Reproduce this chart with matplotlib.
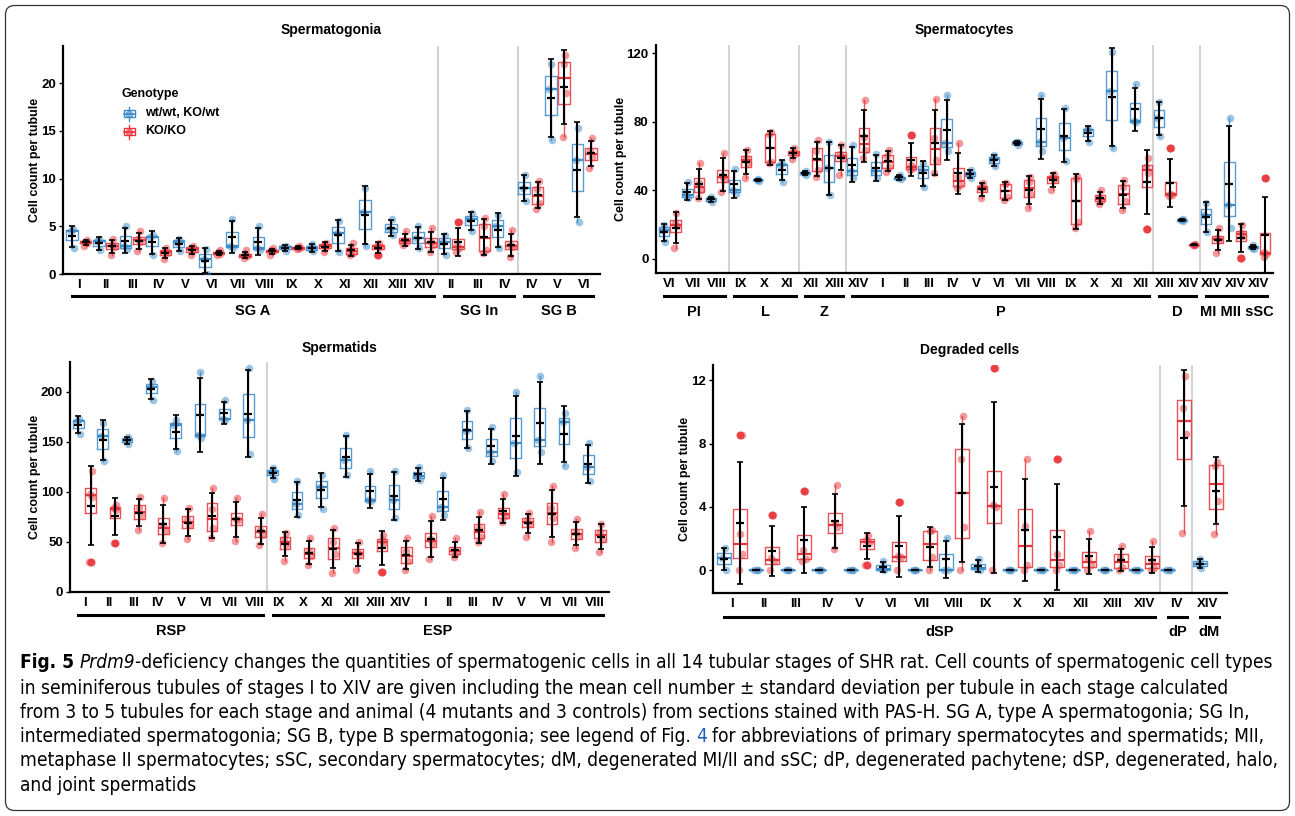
import numpy as np
import matplotlib
matplotlib.use("Agg")
import matplotlib.pyplot as plt
from matplotlib import font_manager
from matplotlib.lines import Line2D
from matplotlib.patches import Rectangle, FancyBboxPatch
from matplotlib.transforms import blended_transform_factory, IdentityTransform

# -----------------------
# Data (animal means per stage; 3 controls, 4 mutants)
# -----------------------
sg_stages = ["I", "II", "III", "IV", "V", "VI", "VII", "VIII", "IX", "X", "XI", "XII", "XIII", "XIV",
             "II", "III", "IV", "IV", "V", "VI"]
sg_groups = [("SG A", 14), ("SG In", 3), ("SG B", 3)]
sg_wt = [[2.7, 4.5, 4.7], [2.5, 3.5, 3.7], [2.6, 3.0, 5.0], [2.0, 3.9, 4.1], [2.4, 3.4, 3.7],
         [0.0, 1.6, 2.6], [2.8, 3.0, 5.8], [2.5, 2.7, 5.0], [2.4, 2.9, 3.0], [2.4, 2.7, 3.2],
         [2.3, 4.3, 5.6], [3.0, 6.5, 9.0], [4.1, 4.7, 5.8], [2.7, 3.8, 5.0],
         [2.0, 3.4, 4.1], [4.5, 5.8, 6.4], [2.7, 5.1, 6.2],
         [7.7, 9.0, 10.4], [14.0, 19.4, 22.0], [5.5, 12.0, 15.3]]
sg_ko = [[3.0, 3.3, 3.4, 3.6], [2.0, 2.9, 3.1, 3.7], [2.4, 3.4, 3.7, 4.5], [1.6, 2.2, 2.4, 2.8],
         [2.0, 2.5, 2.8, 3.0], [2.0, 2.1, 2.3, 2.5], [1.7, 1.9, 2.0, 2.5], [2.0, 2.4, 2.5, 2.7],
         [2.6, 2.7, 2.8, 3.0], [2.3, 2.9, 3.1, 3.3], [2.0, 2.2, 2.6, 3.3], [2.0, 2.9, 3.0, 3.3],
         [3.1, 3.3, 3.6, 4.5], [2.3, 3.1, 3.4, 4.8],
         [2.3, 2.7, 3.1, 5.5], [2.2, 2.5, 5.0, 5.9], [1.8, 2.9, 3.1, 4.6],
         [6.8, 7.5, 8.9, 9.8], [14.4, 19.0, 22.0, 22.9], [11.1, 12.3, 12.9, 14.3]]

sc_stages = ["VI", "VII", "VIII", "IX", "X", "XI", "XII", "XIII",
             "XIV", "I", "II", "III", "IV", "V", "VI", "VII", "VIII", "IX", "X", "XI", "XII",
             "XIII", "XIV", "XIV", "XIV", "XIV"]
sc_groups = [("PI", 3), ("L", 3), ("Z", 2), ("P", 13), ("D", 2), ("MI MII sSC", 3)]
sc_wt = [[10.0, 16.8, 19.8], [35.5, 37.0, 45.0], [33.0, 35.0, 36.0],
         [38.0, 40.0, 52.5], [45.5, 46.0, 46.5], [45.0, 54.5, 56.0],
         [49.0, 50.0, 51.5], [37.0, 53.0, 68.4],
         [47.0, 51.0, 66.4], [47.0, 51.0, 61.5], [46.5, 47.0, 49.0], [42.0, 52.0, 56.0],
         [63.0, 67.4, 95.6], [47.0, 49.5, 52.0], [54.0, 58.0, 60.5], [66.5, 68.0, 68.5],
         [63.0, 68.4, 95.6], [57.0, 70.5, 88.2], [68.0, 75.0, 76.6], [64.5, 98.0, 121.0],
         [79.7, 80.5, 101.9],
         [72.0, 82.5, 91.5], [22.0, 22.5, 23.0],
         [15.4, 25.5, 32.3], [18.1, 31.4, 82.0], [5.5, 6.5, 8.0]]
sc_ko = [[6.0, 19.0, 21.0, 27.0], [35.6, 40.0, 44.0, 56.0], [39.0, 46.5, 48.5, 62.0],
         [47.0, 56.0, 59.0, 63.5], [55.7, 56.7, 72.7, 73.8], [58.0, 61.5, 62.5, 65.0],
         [48.0, 52.0, 63.0, 69.4], [49.0, 59.5, 61.0, 66.4],
         [59.0, 63.5, 71.0, 93.0], [50.8, 53.5, 60.0, 63.5], [51.8, 52.8, 54.8, 72.3],
         [50.0, 57.5, 70.5, 93.3], [41.5, 43.0, 48.0, 67.4], [35.6, 40.5, 42.0, 44.4],
         [34.3, 36.0, 43.5, 44.4], [29.4, 38.0, 45.0, 48.0], [40.0, 46.0, 48.0, 49.5],
         [17.7, 21.5, 46.5, 48.3], [32.0, 34.0, 36.0, 40.0], [28.4, 33.5, 42.0, 46.0],
         [17.1, 50.0, 53.8, 58.6],
         [36.5, 37.2, 38.0, 65.0], [7.8, 8.0, 8.2, 8.5],
         [3.5, 11.0, 12.0, 17.7], [0.2, 13.5, 15.0, 19.7], [1.0, 3.0, 4.0, 47.3]]

st_stages = ["I", "II", "III", "IV", "V", "VI", "VII", "VIII",
             "IX", "X", "XI", "XII", "XIII", "XIV", "I", "II", "III", "IV", "V", "VI", "VII", "VIII"]
st_groups = [("RSP", 8), ("ESP", 14)]
st_wt = [[157.5, 170.5, 173.0], [130.5, 155.5, 169.0], [148.0, 152.0, 155.0], [191.7, 205.0, 211.0],
         [140.7, 166.5, 171.7], [154.0, 157.0, 219.3], [171.5, 173.0, 191.7], [137.7, 171.7, 224.0],
         [113.0, 120.0, 123.5], [76.7, 88.0, 111.0], [83.0, 104.5, 117.0], [116.7, 131.7, 156.7],
         [90.5, 91.7, 120.7], [74.0, 91.7, 121.0], [111.7, 116.0, 124.3], [76.7, 85.0, 116.7],
         [144.0, 160.7, 181.7], [130.7, 140.0, 165.0], [120.0, 148.3, 199.3], [139.3, 151.7, 216.0],
         [125.7, 169.3, 178.3], [110.7, 125.0, 148.3]]
st_ko = [[29.3, 95.0, 98.0, 121.0], [48.3, 82.0, 84.0, 86.7], [61.7, 76.5, 83.5, 95.0],
         [49.0, 61.0, 67.0, 94.0], [52.7, 67.0, 73.0, 84.0], [53.3, 63.3, 83.0, 104.0],
         [50.7, 72.0, 73.0, 94.0], [46.7, 57.0, 62.0, 77.3],
         [30.7, 47.0, 53.0, 58.5], [26.7, 35.5, 40.5, 54.0], [18.3, 38.0, 50.0, 64.0],
         [21.7, 38.0, 40.0, 50.0], [19.3, 48.0, 51.5, 56.7], [21.7, 31.0, 41.0, 54.0],
         [32.7, 48.3, 53.0, 75.7], [35.0, 38.5, 42.0, 53.3], [50.0, 54.5, 64.0, 79.3],
         [70.0, 75.5, 79.0, 97.3], [55.0, 68.0, 72.0, 78.3], [49.3, 73.3, 83.3, 106.0],
         [44.0, 56.0, 60.0, 72.7], [39.3, 53.0, 60.0, 68.0]]

dg_stages = ["I", "II", "III", "IV", "V", "VI", "VII", "VIII", "IX", "X", "XI", "XII", "XIII", "XIV",
             "IV", "XIV"]
dg_groups = [("dSP", 14), ("dP", 1), ("dM", 1)]
dg_wt = [[0.0, 0.75, 1.4], [0.0, 0.0, 0.0], [0.0, 0.0, 0.0], [0.0, 0.0, 0.0], [0.0, 0.0, 0.0],
         [0.0, 0.05, 0.55], [0.0, 0.0, 0.0], [0.0, 0.0, 2.05], [0.0, 0.1, 0.7], [0.0, 0.0, 0.0],
         [0.0, 0.0, 0.0], [0.0, 0.0, 0.0], [0.0, 0.0, 0.0], [0.0, 0.0, 0.0],
         [0.0, 0.0, 0.0], [0.1, 0.4, 0.7]]
dg_ko = [[0.0, 1.0, 2.3, 8.55], [0.0, 0.55, 0.75, 3.5], [0.6, 0.7, 1.3, 5.0], [1.35, 2.7, 3.0, 5.4],
         [0.3, 1.7, 1.9, 2.2], [0.0, 0.8, 0.9, 4.3], [0.0, 0.85, 2.45, 2.55], [0.0, 2.7, 7.0, 9.75],
         [0.0, 4.0, 4.1, 12.8], [0.0, 0.3, 2.8, 7.0], [0.0, 0.3, 1.0, 7.05], [0.0, 0.3, 0.7, 2.45],
         [0.0, 0.2, 0.8, 1.55], [0.0, 0.15, 0.6, 1.85],
         [2.35, 8.6, 10.25, 12.3], [2.3, 4.35, 6.6, 6.85]]

genotypes = ["wt/wt, KO/wt", "KO/KO"]

# -----------------------
# Style
# -----------------------
W, H = 1295, 816
BLUE = "#3C8BC9"
RED = "#E8353B"
SEP = "#d4d4d4"
FONT = ["Liberation Sans", "DejaVu Sans"]
plt.rcParams["font.family"] = FONT
plt.rcParams["font.weight"] = "bold"

JIT = {3: [0.05, -0.06, 0.02], 4: [-0.05, 0.06, -0.02, 0.04]}


def fx(x):
    return x / W


def fy(y):
    return 1 - y / H


def draw_panel(fig, box, stages, groups, wt, ko, ylim, yticks, title, ylab_x, line_y, glab_y, title_y):
    left, top, right, bottom = box
    ax = fig.add_axes([fx(left), fy(bottom), (right - left) / W, (bottom - top) / H])
    n = len(stages)
    x = np.arange(1, n + 1)

    # group separators
    pos = 0
    for _, cnt in groups[:-1]:
        pos += cnt
        ax.axvline(pos + 0.5, color=SEP, lw=1.5, zorder=0)

    for vals, off, col in ((wt, -0.25, BLUE), (ko, 0.25, RED)):
        p = x + off
        ax.boxplot(vals, positions=p, widths=0.44, manage_ticks=False,
                   boxprops=dict(color=col, lw=1.0, alpha=0.85),
                   medianprops=dict(color=col, lw=1.6),
                   whiskerprops=dict(color=col, lw=1.0, alpha=0.85),
                   capprops=dict(visible=False),
                   flierprops=dict(marker="o", markerfacecolor=col, markeredgecolor="none",
                                   markersize=5.8, alpha=0.9),
                   zorder=2)
        for xi, v in zip(p, vals):
            v = np.asarray(v, dtype=float)
            ax.scatter(xi + np.array(JIT[len(v)]), v, s=30, color=col, alpha=0.5, lw=0, zorder=3)
            ax.errorbar(xi, v.mean(), yerr=v.std(ddof=1), fmt="none", ecolor="black",
                        elinewidth=1.5, capsize=2, capthick=1.2, zorder=4)
            ax.plot([xi], [v.mean()], marker="_", color="black", markersize=6, mew=1.6, zorder=5)

    ax.set_xlim(0.4, n + 0.6)
    ax.set_ylim(*ylim)
    ax.set_yticks(yticks)
    ax.set_xticks(x, stages)
    for s in ("top", "right"):
        ax.spines[s].set_visible(False)
    for s in ("left", "bottom"):
        ax.spines[s].set_linewidth(1.6)
    ax.tick_params(axis="x", length=0, pad=3.5, labelsize=9.5)
    ax.tick_params(axis="y", length=3, width=1, pad=2, labelsize=9.5)
    for t in ax.get_xticklabels() + ax.get_yticklabels():
        t.set_fontweight("bold")
    ax.set_ylabel("Cell count per tubule", fontsize=9, fontweight="bold")
    ax.yaxis.set_label_coords((ylab_x - left) / (right - left), 0.5)

    # group underlines and labels
    tr = blended_transform_factory(ax.transData, fig.transFigure)
    start = 1
    for name, cnt in groups:
        x0, x1 = start - 0.25, start + cnt - 1 + 0.35
        fig.add_artist(Line2D([x0, x1], [fy(line_y)] * 2, color="black", lw=2.2, transform=tr))
        fig.text((x0 + x1) / 2, fy(glab_y), name, transform=tr, ha="center", va="center",
                 fontsize=10.5, fontweight="bold")
        start += cnt

    fig.text(fx((left + right) / 2), fy(title_y), title, ha="center", va="center",
             fontsize=10, fontweight="bold")
    return ax


fig = plt.figure(figsize=(W / 100, H / 100), dpi=100)

ax1 = draw_panel(fig, (63, 45.7, 600, 274.3), sg_stages, sg_groups, sg_wt, sg_ko,
                 (0, 23.9), [0, 5, 10, 15, 20], "Spermatogonia", 41, 296, 311, 30)
ax2 = draw_panel(fig, (655.5, 45, 1273, 273.3), sc_stages, sc_groups, sc_wt, sc_ko,
                 (-8.5, 124.9), [0, 40, 80, 120], "Spermatocytes", 627, 296, 311.5, 30)
ax3 = draw_panel(fig, (70, 362.3, 609, 591.7), st_stages, st_groups, st_wt, st_ko,
                 (0, 229.4), [0, 50, 100, 150, 200], "Spermatids", 41, 615, 631, 348)
ax4 = draw_panel(fig, (713.3, 365, 1226.7, 593), dg_stages, dg_groups, dg_wt, dg_ko,
                 (-1.45, 12.97), [0, 4, 8, 12], "Degraded cells", 691, 616.5, 632, 350)

# -----------------------
# Legend (drawn by hand, ggplot-like keys)
# -----------------------
fig.text(fx(122), fy(94), "Genotype", ha="left", va="center", fontsize=9, fontweight="bold")
for i, (lab, col) in enumerate(zip(genotypes, (BLUE, RED))):
    cy = 113.5 + i * 18
    fig.add_artist(Rectangle((fx(123.5), fy(cy + 3.2)), 11.5 / W, 6.4 / H, transform=fig.transFigure,
                             fill=False, edgecolor=col, lw=1.0))
    fig.add_artist(Line2D([fx(129.2)] * 2, [fy(cy - 7), fy(cy - 3.2)], color=col, lw=1.0))
    fig.add_artist(Line2D([fx(129.2)] * 2, [fy(cy + 3.2), fy(cy + 7)], color=col, lw=1.0))
    fig.add_artist(Line2D([fx(123.5), fx(135)], [fy(cy)] * 2, color=col, lw=1.2))
    fig.add_artist(Line2D([fx(129.2)], [fy(cy)], marker="o", markersize=4.5, color=col, alpha=0.6, lw=0))
    fig.text(fx(145), fy(cy), lab, ha="left", va="center", fontsize=9, fontweight="bold")

# -----------------------
# Caption
# -----------------------
names = {f.name for f in font_manager.fontManager.ttflist}
if "Liberation Sans Narrow" in names:
    cap_family, cap_stretch = "Liberation Sans Narrow", "normal"
else:
    cap_family, cap_stretch = "DejaVu Sans", "condensed"

# each segment: text, style, colour, whether a space follows it
caption = [
    [("Fig. 5", "bold", "black", True), ("Prdm9", "italic", "black", False),
     ("-deficiency changes the quantities of spermatogenic cells in all 14 tubular stages of SHR rat. "
      "Cell counts of spermatogenic cell types", "normal", "black", False)],
    [("in seminiferous tubules of stages I to XIV are given including the mean cell number \u00b1 standard "
      "deviation per tubule in each stage calculated", "normal", "black", False)],
    [("from 3 to 5 tubules for each stage and animal (4 mutants and 3 controls) from sections stained with "
      "PAS-H. SG A, type A spermatogonia; SG In,", "normal", "black", False)],
    [("intermediated spermatogonia; SG B, type B spermatogonia; see legend of Fig.", "normal", "black", True),
     ("4", "normal", "#1f5fbf", True),
     ("for abbreviations of primary spermatocytes and spermatids; MII,", "normal", "black", False)],
    [("metaphase II spermatocytes; sSC, secondary spermatocytes; dM, degenerated MI/II and sSC; dP, "
      "degenerated pachytene; dSP, degenerated, halo,", "normal", "black", False)],
    [("and joint spermatids", "normal", "black", False)],
]
cap_y = [663, 688, 712, 736.5, 761, 785.5]

renderer = fig.canvas.get_renderer()


def seg_kw(style, size):
    kw = dict(family=cap_family, stretch=cap_stretch, fontsize=size, fontweight="normal", fontstyle="normal")
    if style == "bold":
        kw["fontweight"] = "bold"
    if style == "italic":
        kw["fontstyle"] = "italic"
    return kw


def text_w(s, style, size):
    t = fig.text(0, 0, s, **seg_kw(style, size))
    w = t.get_window_extent(renderer).width
    t.remove()
    return w


# pick a size so the first line spans the same width as in the source
base = 12.0
sp0 = text_w("a a", "normal", base) - text_w("aa", "normal", base)
w1 = sum(text_w(s, st, base) + (sp0 if gap else 0) for s, st, _, gap in caption[0])
cap_size = base * 1252 / w1
space = text_w("a a", "normal", cap_size) - text_w("aa", "normal", cap_size)

for line, y in zip(caption, cap_y):
    xp = 20.0
    for s, st, col, gap in line:
        t = fig.text(fx(xp), fy(y), s, ha="left", va="center", color=col, **seg_kw(st, cap_size))
        xp += t.get_window_extent(renderer).width + (space if gap else 0)

# rounded frame around the whole figure
fig.patches.append(FancyBboxPatch((5.5, 5.5), W - 11, H - 11, boxstyle="round,pad=0,rounding_size=9",
                                  transform=IdentityTransform(), fill=False, edgecolor="#333333", lw=0.9,
                                  figure=fig))

fig.savefig("out.png", dpi=100)
